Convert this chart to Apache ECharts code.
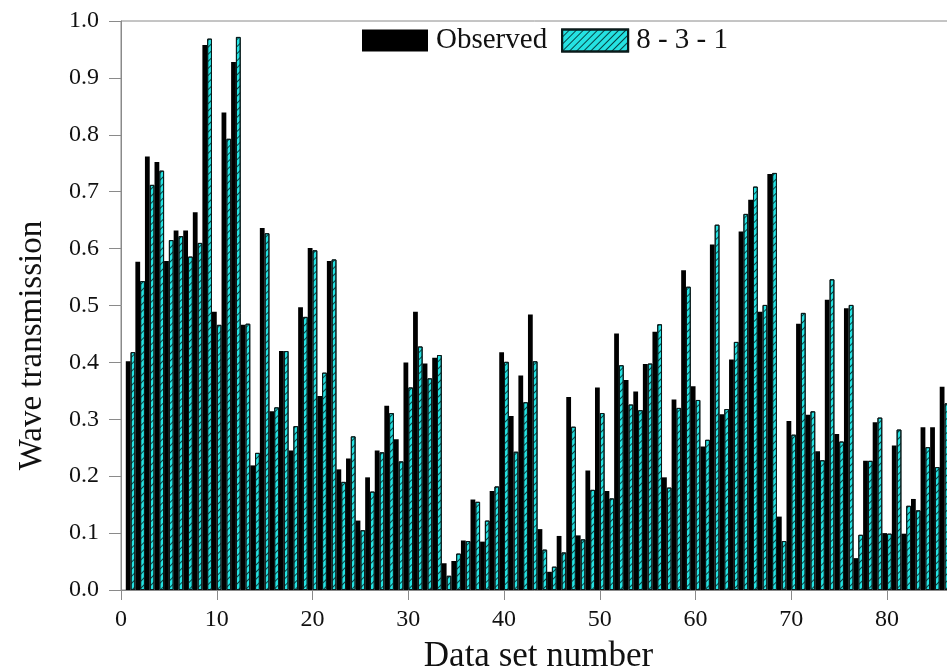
<!DOCTYPE html>
<html>
<head>
<meta charset="utf-8">
<script src="https://cdn.jsdelivr.net/npm/echarts@6/dist/echarts.min.js"></script>
<style>
html,body{margin:0;padding:0;background:#fff;overflow:hidden;}
#chart{width:947px;height:671px;}
</style>
</head>
<body>
<div id="chart"></div>
<script>
// Data set numbers
const setNumbers = [];
for (let i = 1; i <= 86; i++) setNumbers.push(i);

// Observed wave transmission
const observed = [
  0.402, 0.577, 0.762, 0.752, 0.578, 0.632, 0.632, 0.664, 0.958, 0.489,
  0.839, 0.928, 0.466, 0.219, 0.636, 0.314, 0.420, 0.245, 0.497, 0.601,
  0.341, 0.578, 0.212, 0.231, 0.122, 0.198, 0.245, 0.324, 0.265, 0.400,
  0.489, 0.398, 0.408, 0.047, 0.051, 0.087, 0.159, 0.085, 0.174, 0.418,
  0.306, 0.377, 0.484, 0.107, 0.032, 0.095, 0.339, 0.096, 0.210, 0.356,
  0.174, 0.451, 0.369, 0.349, 0.397, 0.454, 0.198, 0.335, 0.562, 0.358,
  0.252, 0.607, 0.309, 0.405, 0.630, 0.686, 0.489, 0.731, 0.129, 0.297,
  0.468, 0.308, 0.244, 0.510, 0.274, 0.495, 0.056, 0.227, 0.295, 0.100,
  0.254, 0.099, 0.160, 0.286, 0.286, 0.357
];

// 8 - 3 - 1 model prediction
const predicted = [
  0.418, 0.543, 0.712, 0.737, 0.615, 0.622, 0.586, 0.610, 0.969, 0.466,
  0.793, 0.972, 0.468, 0.241, 0.627, 0.321, 0.420, 0.288, 0.480, 0.597,
  0.382, 0.581, 0.190, 0.270, 0.105, 0.173, 0.242, 0.311, 0.226, 0.356,
  0.428, 0.372, 0.413, 0.025, 0.064, 0.086, 0.155, 0.122, 0.182, 0.401,
  0.243, 0.330, 0.402, 0.071, 0.041, 0.066, 0.287, 0.089, 0.176, 0.311,
  0.161, 0.395, 0.326, 0.316, 0.398, 0.467, 0.180, 0.320, 0.533, 0.334,
  0.264, 0.642, 0.318, 0.436, 0.661, 0.709, 0.501, 0.733, 0.086, 0.273,
  0.487, 0.314, 0.228, 0.546, 0.261, 0.501, 0.097, 0.227, 0.303, 0.099,
  0.282, 0.148, 0.140, 0.251, 0.216, 0.328
];

const seriesNames = ['Observed', '8 - 3 - 1'];
const xTitle = 'Data set number';
const yTitle = 'Wave transmission';

const obsData = setNumbers.map((n, i) => [n, observed[i]]);
const predData = setNumbers.map((n, i) => [n, predicted[i]]);

const FONT = '"Liberation Serif", "Times New Roman", serif';
const AXIS_GRAY = '#8a8a8a';
const X_MAX = 87.2;
const GRID_W = 835;
const BAR_W = GRID_W / X_MAX / 2;

const chart = echarts.init(document.getElementById('chart'), null, {renderer: 'canvas'});
chart.setOption({
  animation: false,
  backgroundColor: '#ffffff',
  grid: {
    left: 121, top: 21, bottom: 81, width: GRID_W,
    containLabel: false,
    outerBoundsMode: 'none',
    show: true, borderColor: AXIS_GRAY, borderWidth: 1, backgroundColor: 'transparent'
  },
  legend: {
    data: seriesNames,
    left: 362, top: 26, padding: 0,
    itemWidth: 66, itemHeight: 22, itemGap: 14,
    icon: 'rect',
    textStyle: {fontFamily: FONT, fontSize: 29, color: '#111', padding: [0, 0, 0, 3]}
  },
  xAxis: {
    type: 'value',
    min: 0, max: X_MAX, interval: 10,
    name: xTitle,
    nameLocation: 'middle',
    nameGap: 49,
    nameTextStyle: {fontFamily: FONT, fontSize: 35, color: '#111'},
    axisLine: {show: true, lineStyle: {color: AXIS_GRAY, width: 1}},
    axisTick: {show: true, inside: false, length: 10, lineStyle: {color: AXIS_GRAY}},
    axisLabel: {fontFamily: FONT, fontSize: 24, color: '#111', margin: 18, showMaxLabel: false},
    splitLine: {show: false}
  },
  yAxis: {
    type: 'value',
    min: 0, max: 1, interval: 0.1,
    name: yTitle,
    nameLocation: 'middle',
    nameGap: 72,
    nameTextStyle: {fontFamily: FONT, fontSize: 33, color: '#111', padding: [0, 80, 0, 0]},
    axisLine: {show: true, lineStyle: {color: AXIS_GRAY, width: 1}},
    axisTick: {show: true, inside: false, length: 12, lineStyle: {color: AXIS_GRAY}},
    axisLabel: {fontFamily: FONT, fontSize: 24, color: '#111', margin: 22,
      formatter: v => v.toFixed(1)},
    splitLine: {show: false}
  },
  series: [
    {
      name: seriesNames[0],
      type: 'bar',
      data: obsData,
      barWidth: BAR_W,
      barGap: '0%',
      itemStyle: {color: '#000000', borderColor: '#000000', borderWidth: 0}
    },
    {
      name: seriesNames[1],
      type: 'bar',
      data: predData,
      barWidth: BAR_W,
      barGap: '0%',
      itemStyle: {
        color: '#25e2e2',
        borderColor: '#0a1a1a',
        borderWidth: 1,
        decal: {
          symbol: 'rect',
          symbolSize: 1,
          color: 'rgba(0,40,40,0.85)',
          dashArrayX: [1, 0],
          dashArrayY: [1, 4],
          rotation: -Math.PI / 4
        }
      }
    }
  ]
});
</script>
</body>
</html>
